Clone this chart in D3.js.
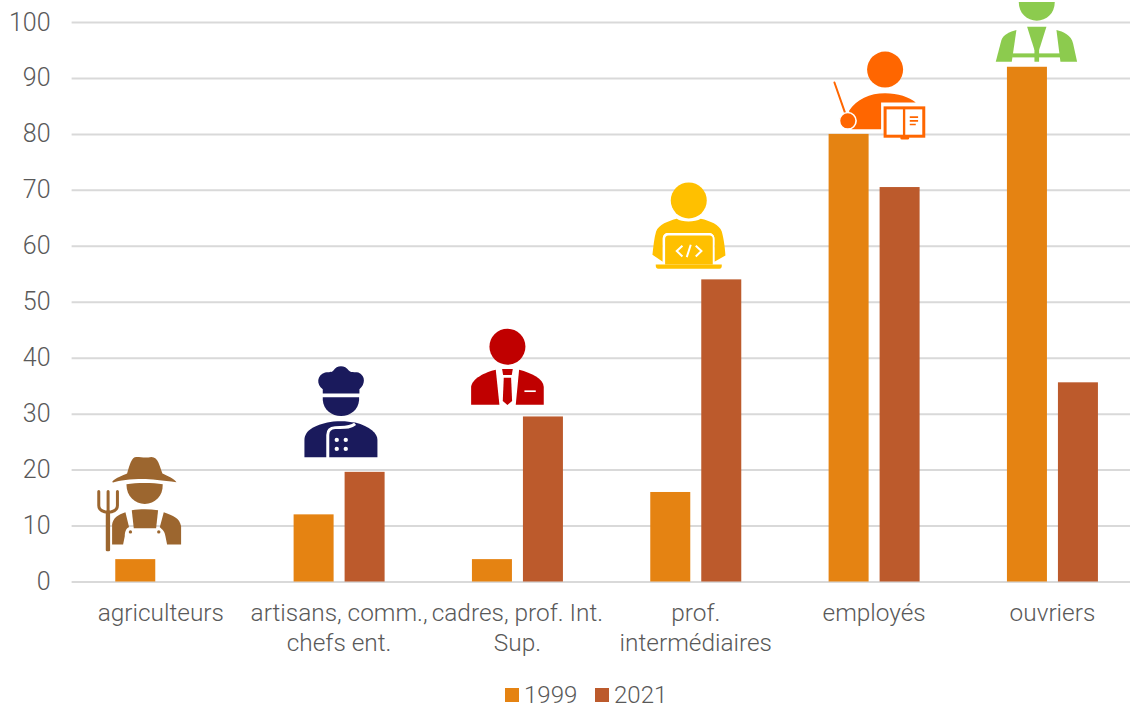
<!DOCTYPE html>
<html lang="fr">
<head>
<meta charset="utf-8">
<script src="https://cdn.jsdelivr.net/npm/d3@7/dist/d3.min.js"></script>
<style>
  html, body { margin: 0; padding: 0; background: #fff; overflow: hidden; }
  svg { display: block; }
  text { font-family: Roboto, "Liberation Sans", sans-serif; font-weight: 300; fill: #595959; }
</style>
</head>
<body>
<svg id="chart" width="1130" height="705"></svg>
<script>
// Professions
const categories = ["agriculteurs", "artisans, comm., chefs ent.", "cadres, prof. Int. Sup.", "prof. intermédiaires", "employés", "ouvriers"];
const categoryLines = [["agriculteurs"], ["artisans, comm.,", "chefs ent."], ["cadres, prof. Int.", "Sup."], ["prof.", "intermédiaires"], ["employés"], ["ouvriers"]];
const series1999 = [4, 12, 4, 16, 80, 92];
const series2021 = [null, 19.6, 29.5, 54, 70.5, 35.6];
const seriesNames = ["1999", "2021"];
const seriesColors = ["#E58312", "#BC5A2C"];
const yTicks = [0, 10, 20, 30, 40, 50, 60, 70, 80, 90, 100];

// Level on the value axis where the foot of each pictogram sits
const iconBase = [6.6, 22.2, 31.6, 55.9, 79.35, 92.9];

const W = 1130, H = 705;
const margin = { left: 71.6, right: -11.6, top: 22, bottom: 123.5 };
const svg = d3.select("#chart");

const x = d3.scaleBand().domain(categories).range([margin.left, W - margin.right]);
const y = d3.scaleLinear().domain([0, 100]).range([H - margin.bottom, margin.top]);

const barWidth = 40, barGap = 11;

// Gridlines and value labels
const yAxis = svg.append("g")
  .attr("transform", `translate(${margin.left},0)`)
  .call(d3.axisLeft(y).tickValues(yTicks).tickSize(-(W - margin.left - margin.right)).tickPadding(21));
yAxis.select(".domain").remove();
yAxis.selectAll("line").attr("stroke", "#D9D9D9").attr("stroke-width", 2);
yAxis.selectAll("text").attr("font-size", 25).style("font-family", "Roboto, sans-serif");

// Bars, side by side around the category centre
const groups = [
  { values: series1999, color: seriesColors[0], dx: -barWidth - barGap / 2 },
  { values: series2021, color: seriesColors[1], dx: barGap / 2 }
];
groups.forEach(s => {
  svg.append("g").selectAll("rect")
    .data(categories.map((c, i) => ({ c, v: s.values[i] })).filter(d => d.v !== null))
    .join("rect")
    .attr("x", d => x(d.c) + x.bandwidth() / 2 + s.dx)
    .attr("y", d => y(d.v))
    .attr("width", barWidth)
    .attr("height", d => y(0) - y(d.v))
    .attr("fill", s.color);
});

// Category labels on one or two lines
const xAxis = svg.append("g")
  .attr("transform", `translate(0,${y(0)})`)
  .call(d3.axisBottom(x).tickSize(0).tickFormat(""));
xAxis.select(".domain").remove();
xAxis.selectAll(".tick text").each(function (c) {
  const lines = categoryLines[categories.indexOf(c)];
  const t = d3.select(this).attr("y", 0).attr("dy", null).attr("font-size", 24.4).attr("text-anchor", "middle");
  lines.forEach((line, i) => {
    t.append("tspan").attr("x", 0).attr("y", 39 + i * 30).text(line);
  });
});

// Pictograms: shapes are authored at 3 units per pixel around their own origin
function shape(g, type, attrs) {
  const el = g.append(type);
  Object.entries(attrs).forEach(([k, v]) => el.attr(k, v));
  return el;
}

const pictograms = [
  { dx: -16, origin: [195, 585], color: "#9C662F", draw(g, c) {
      shape(g, "path", { fill: c, d: "M97,397 C105,385 130,378 142,372 C150,345 155,322 170,322 C185,322 195,326 215,322 C235,322 240,350 248,372 C260,378 285,388 290,398 C250,392 210,388 190,388 C150,388 120,392 100,399 Z" });
      shape(g, "path", { fill: c, d: "M140,404 C170,399 220,399 249,404 C250,440 225,463 195,463 C165,463 140,440 140,404 Z" });
      shape(g, "path", { fill: "#fff", d: "M125,540 L265,540 L270,590 L120,590 Z" });
      shape(g, "path", { fill: c, d: "M156,482 C180,478 210,478 235,482 L229,536 L162,536 Z" });
      shape(g, "path", { fill: c, d: "M137,488 C115,495 100,505 97,525 L97,585 L130,585 L135,560 C135,545 140,535 148,533 Z" });
      shape(g, "path", { fill: c, d: "M252,488 C280,498 300,505 304,530 L304,585 L262,585 L257,560 C255,545 248,540 240,533 Z" });
      shape(g, "circle", { fill: c, cx: 152, cy: 547, r: 5 });
      shape(g, "circle", { fill: c, cx: 237, cy: 547, r: 5 });
      shape(g, "rect", { fill: c, x: 78, y: 488, width: 13, height: 117, rx: 4 });
      shape(g, "path", { fill: "none", stroke: c, "stroke-width": 9, "stroke-linecap": "round", d: "M57,426 L57,468 Q57,486 85,488 Q113,486 113,468 L113,426 M85,426 L85,488" });
  } },
  { dx: 2, origin: [783, 322], color: "#1A1A5C", draw(g, c) {
      shape(g, "path", { fill: c, d: "M728,118 C708,105 710,75 735,68 C745,65 752,70 760,62 C770,45 795,45 806,62 C815,70 825,65 835,68 C858,78 855,105 838,118 L838,131 L728,131 Z" });
      shape(g, "path", { fill: c, d: "M728,142 L837,142 L837,150 C835,180 810,198 783,198 C755,198 730,180 728,150 Z" });
      shape(g, "path", { fill: c, d: "M673,322 L673,270 C673,240 710,222 760,215 C785,212 805,214 825,218 C870,230 892,250 892,270 L892,322 Z" });
      shape(g, "path", { fill: "none", stroke: "#fff", "stroke-width": 9, d: "M825,222 C810,235 790,232 765,233 C750,234 743,240 743,255 L743,325" });
      [[770, 270], [797, 270], [770, 297], [797, 297]].forEach(([cx, cy]) =>
        shape(g, "circle", { fill: "#fff", cx, cy, r: 6.5 }));
  } },
  { dx: -10, origin: [172, 703], color: "#C00000", draw(g, c) {
      shape(g, "circle", { fill: c, cx: 172, cy: 529, r: 54 });
      shape(g, "path", { fill: c, d: "M63,703 L63,650 C65,625 105,605 137,598 L148,703 Z" });
      shape(g, "path", { fill: c, d: "M207,598 C245,608 280,625 281,650 L281,703 L197,703 Z" });
      shape(g, "path", { fill: c, d: "M156,596 L188,596 L185,614 L159,614 Z" });
      shape(g, "path", { fill: c, d: "M161,622 L183,622 L186,692 L172,704 L158,692 Z" });
      shape(g, "rect", { fill: "#fff", x: 223, y: 660, width: 34, height: 5 });
  } },
  { dx: -7, origin: [716, 297], color: "#FFC000", draw(g, c) {
      shape(g, "circle", { fill: c, cx: 716, cy: 92, r: 54 });
      shape(g, "path", { fill: c, d: "M680,147 C695,158 735,158 752,147 C780,153 808,165 815,185 C822,210 825,240 826,257 L793,276 L793,208 C793,195 785,190 775,190 L655,190 C645,190 638,195 638,208 L638,276 L607,255 C610,230 612,205 618,185 C625,165 655,153 680,147 Z" });
      shape(g, "path", { fill: "#fff", d: "M638,208 C638,195 645,190 655,190 L775,190 C785,190 793,195 793,208 L793,284 L638,284 Z" });
      shape(g, "path", { fill: c, d: "M645,208 Q645,197 655,197 L778,197 Q788,197 788,208 L788,284 L645,284 Z" });
      shape(g, "path", { fill: c, d: "M617,284 L815,284 Q816,297 808,297 L625,297 Q616,297 617,284 Z" });
      shape(g, "path", { fill: "none", stroke: "#fff", "stroke-width": 6, d: "M697,228 L680,244 L697,260 M737,228 L754,244 L737,260 M722,225 L710,262" });
  } },
  { dx: 11, origin: [226, 410], color: "#FF6600", draw(g, c) {
      shape(g, "circle", { fill: c, cx: 226, cy: 206, r: 54 });
      shape(g, "path", { fill: c, d: "M118,330 C140,295 180,277 226,277 C265,277 298,288 318,305 L214,305 L214,385 L125,385 Z" });
      shape(g, "line", { stroke: c, "stroke-width": 6, "stroke-linecap": "round", x1: 74, y1: 245, x2: 108, y2: 342 });
      shape(g, "circle", { fill: c, stroke: "#fff", "stroke-width": 5, cx: 114, cy: 360, r: 25 });
      shape(g, "rect", { fill: "#fff", stroke: c, "stroke-width": 9, x: 226, y: 321, width: 116, height: 85 });
      shape(g, "line", { stroke: c, "stroke-width": 7, x1: 283, y1: 321, x2: 283, y2: 406 });
      shape(g, "rect", { fill: c, x: 272, y: 406, width: 26, height: 10, rx: 4 });
      shape(g, "path", { fill: "none", stroke: c, "stroke-width": 5, d: "M300,349 L325,349 M300,360 L325,360 M300,371 L318,371" });
  } },
  { dx: -16, origin: [680, 185], color: "#8CCB4E", draw(g, c) {
      shape(g, "path", { fill: c, d: "M627,6 L735,6 C735,40 710,62 681,62 C652,62 627,40 627,6 Z" });
      shape(g, "path", { fill: c, d: "M652,80 L710,80 L688,150 L674,150 Z" });
      shape(g, "rect", { fill: c, x: 607, y: 160, width: 145, height: 12 });
      shape(g, "rect", { fill: c, x: 674, y: 148, width: 14, height: 37 });
      shape(g, "path", { fill: c, d: "M620,90 L606,185 L558,185 L575,120 C580,105 600,95 620,90 Z" });
      shape(g, "path", { fill: c, d: "M740,90 L752,185 L802,185 L790,130 C785,105 760,95 740,90 Z" });
  } }
];

pictograms.forEach((p, i) => {
  const c = categories[i];
  const g = svg.append("g")
    .attr("transform", `translate(${x(c) + x.bandwidth() / 2 + p.dx},${y(iconBase[i])}) scale(${1 / 3}) translate(${-p.origin[0]},${-p.origin[1]})`);
  p.draw(g, p.color);
});

// Legend under the plot
const legend = svg.append("g").attr("transform", "translate(505,688)");
seriesNames.forEach((name, i) => {
  const item = legend.append("g").attr("transform", `translate(${i * 90},0)`);
  item.append("rect").attr("width", 14).attr("height", 14).attr("fill", seriesColors[i]);
  item.append("text").attr("x", 19).attr("y", 14.5).attr("font-size", 24).text(name);
});
</script>
</body>
</html>
